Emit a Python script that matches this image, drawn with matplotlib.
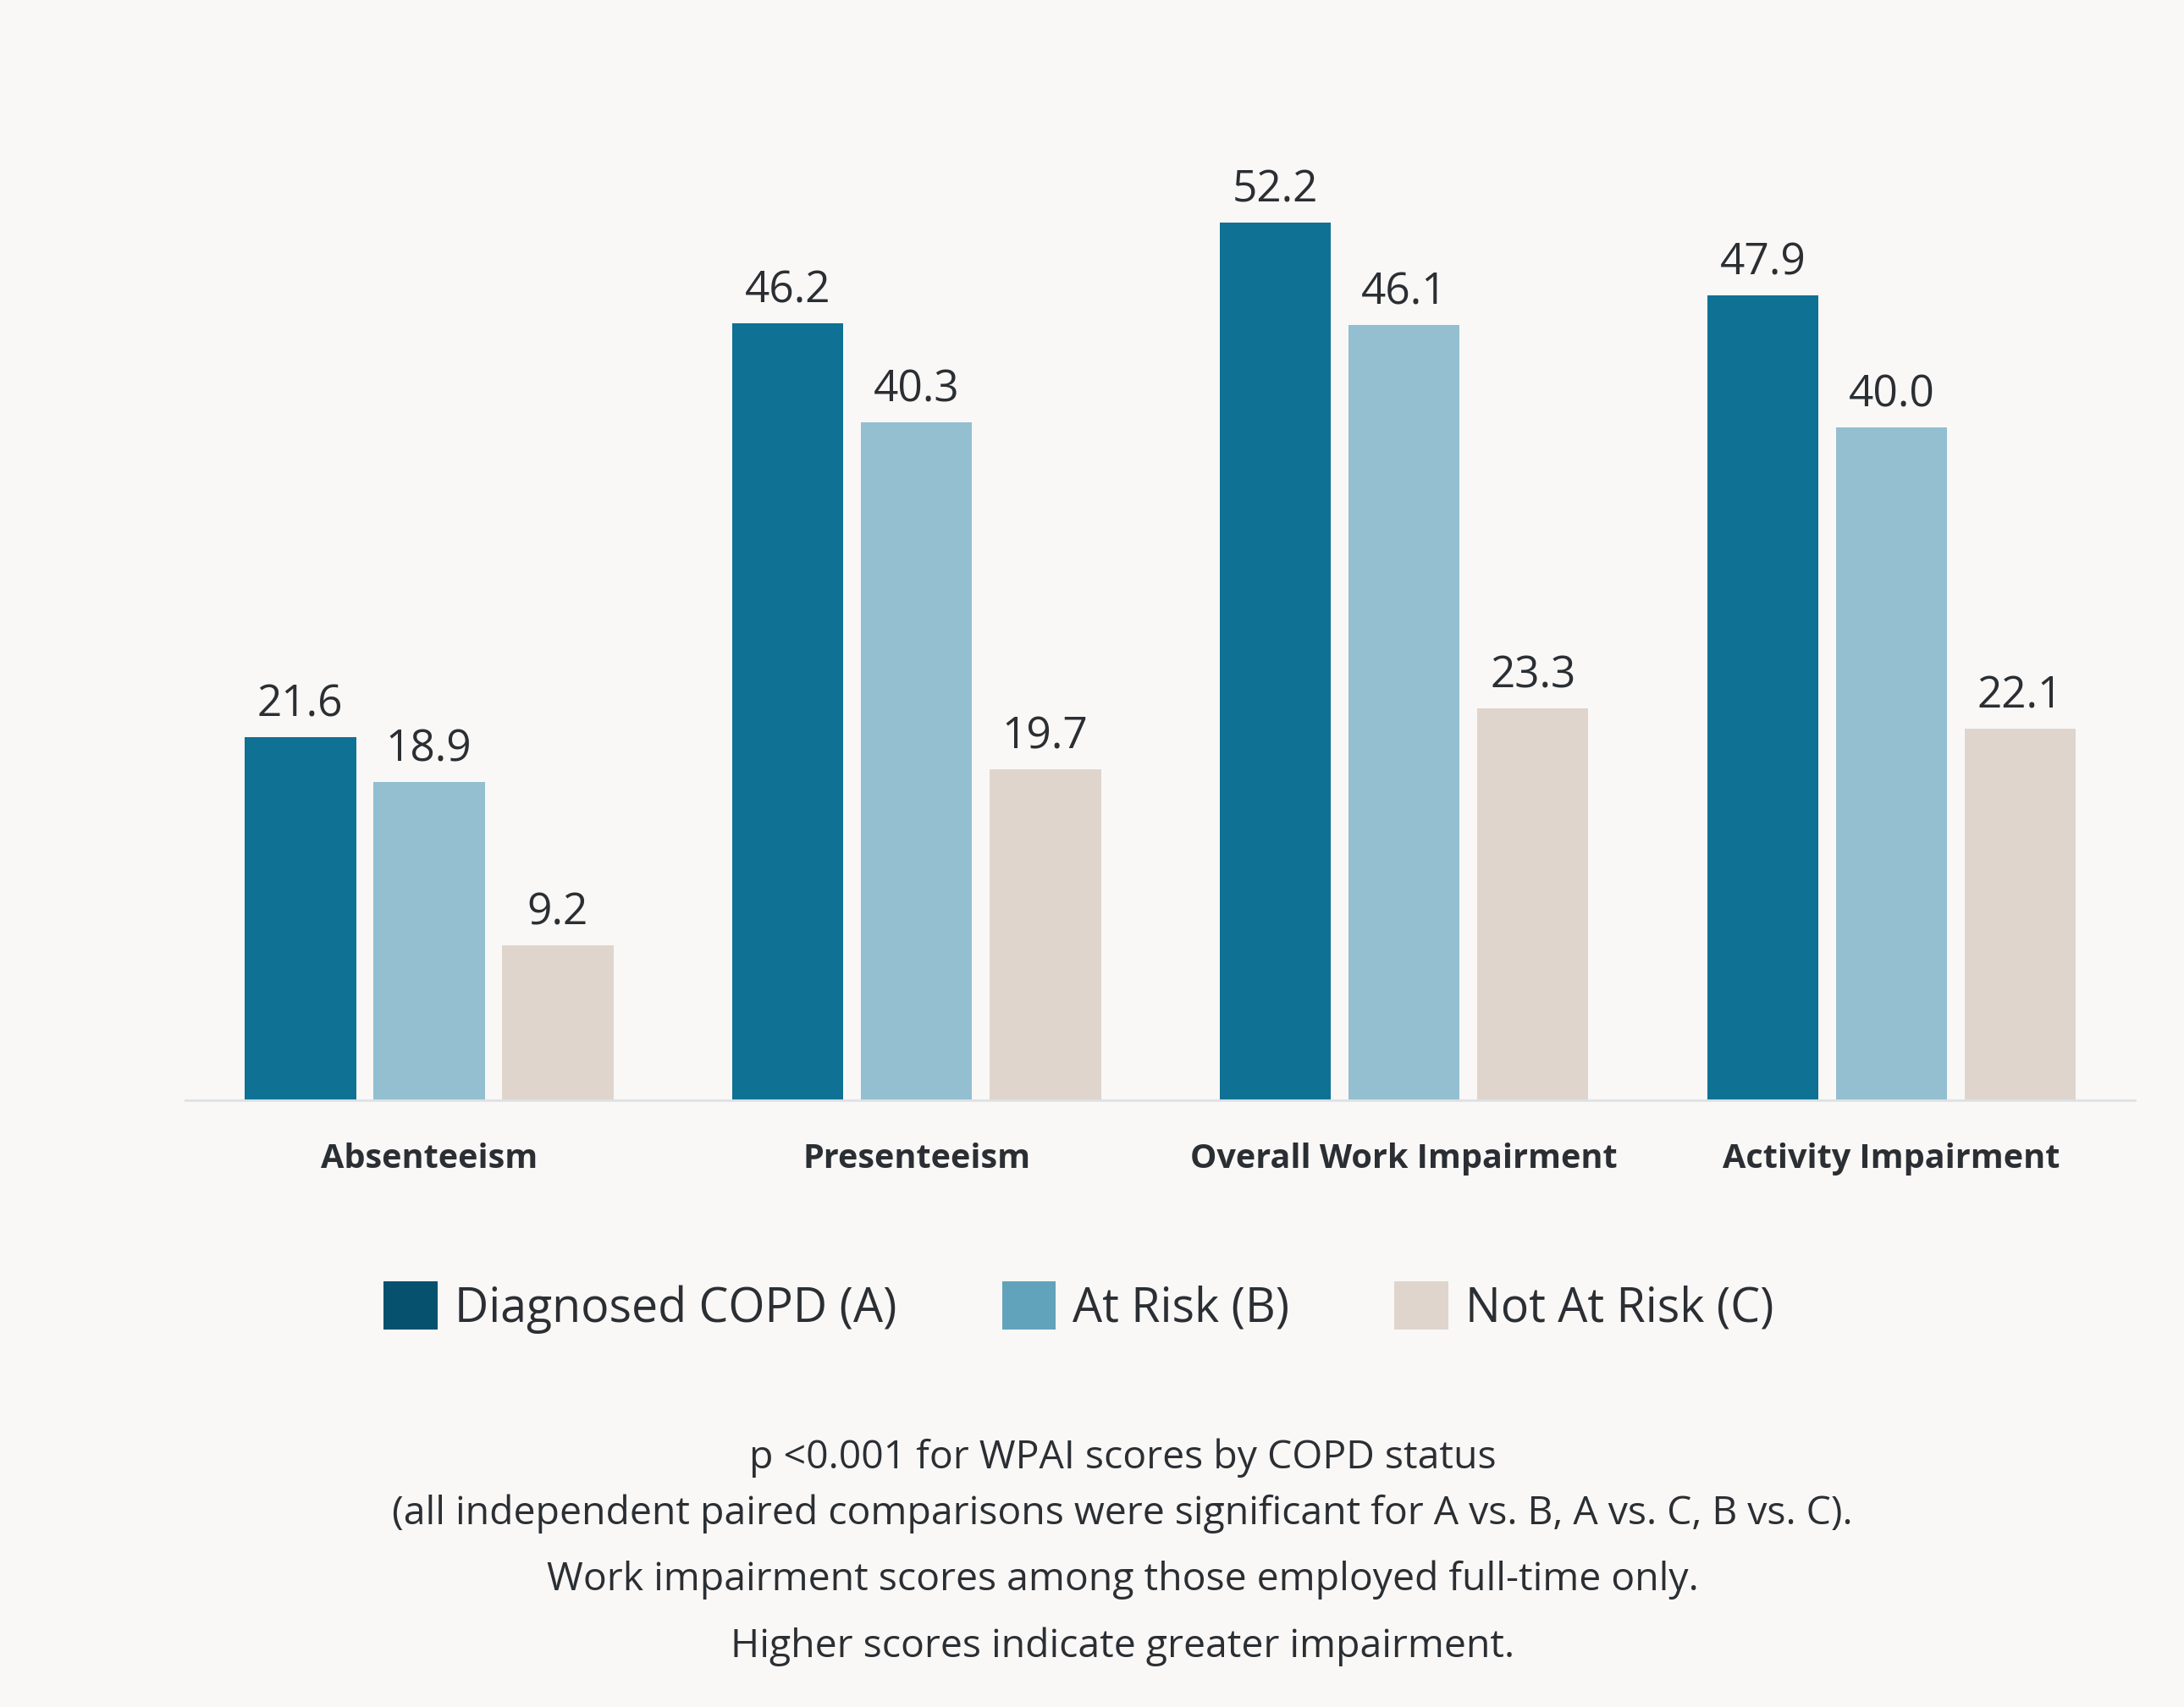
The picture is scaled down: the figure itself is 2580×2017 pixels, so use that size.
import matplotlib.pyplot as plt
from matplotlib.patches import Patch
import numpy as np

categories = ['Absenteeism', 'Presenteeism', 'Overall Work Impairment', 'Activity Impairment']
series_names = ['Diagnosed COPD (A)', 'At Risk (B)', 'Not At Risk (C)']
copd = [21.6, 46.2, 52.2, 47.9]
at_risk = [18.9, 40.3, 46.1, 40.0]
not_at_risk = [9.2, 19.7, 23.3, 22.1]
notes = [
    'p <0.001 for WPAI scores by COPD status',
    '(all independent paired comparisons were significant for A vs. B, A vs. C, B vs. C).',
    'Work impairment scores among those employed full-time only.',
    'Higher scores indicate greater impairment.',
]

bar_colors = ['#0F7194', '#93BFD1', '#DFD5CC']
legend_colors = ['#06516E', '#62A3BC', '#DFD5CC']
bg = '#F9F8F7'
text_color = '#2B2F33'

plt.rcParams['font.family'] = ['Open Sans', 'DejaVu Sans']

fig = plt.figure(figsize=(25.8, 20.17), dpi=100, facecolor=bg)
ax = fig.add_axes([0.0848, 0.3556, 0.8929, 0.6444], facecolor=bg)

x = np.arange(len(categories))
width = 0.2286
step = 0.264
for i, vals in enumerate([copd, at_risk, not_at_risk]):
    bars = ax.bar(x + (i - 1) * step, vals, width, color=bar_colors[i])
    ax.bar_label(bars, labels=[f'{v:.1f}' for v in vals], padding=9,
                 fontsize=37, color=text_color)

ax.set_xlim(-0.5, 3.5)
ax.set_ylim(0, 65.45)
ax.set_yticks([])
ax.set_xticks(x)
ax.set_xticklabels(categories, fontsize=28.5, fontweight='bold', color=text_color)
ax.tick_params(axis='x', length=0, pad=36)
for s in ['top', 'right', 'left']:
    ax.spines[s].set_visible(False)
ax.spines['bottom'].set_color('#DDE2E4')
ax.spines['bottom'].set_linewidth(2)

handles = [Patch(facecolor=c, edgecolor='none') for c in legend_colors]
leg = fig.legend(handles, series_names, loc='center', bbox_to_anchor=(0.494, 0.234),
                 ncol=3, frameon=False, fontsize=40, handlelength=1.15, handleheight=1.2,
                 handletextpad=0.36, columnspacing=2.23)
for t in leg.get_texts():
    t.set_color(text_color)

note_y = [0.1460, 0.1134, 0.0743, 0.0351]
for txt, y in zip(notes, note_y):
    fig.text(0.514, y, txt, ha='center', va='center', fontsize=33.4, color=text_color)

fig.savefig('out.png', dpi=100, facecolor=bg)
